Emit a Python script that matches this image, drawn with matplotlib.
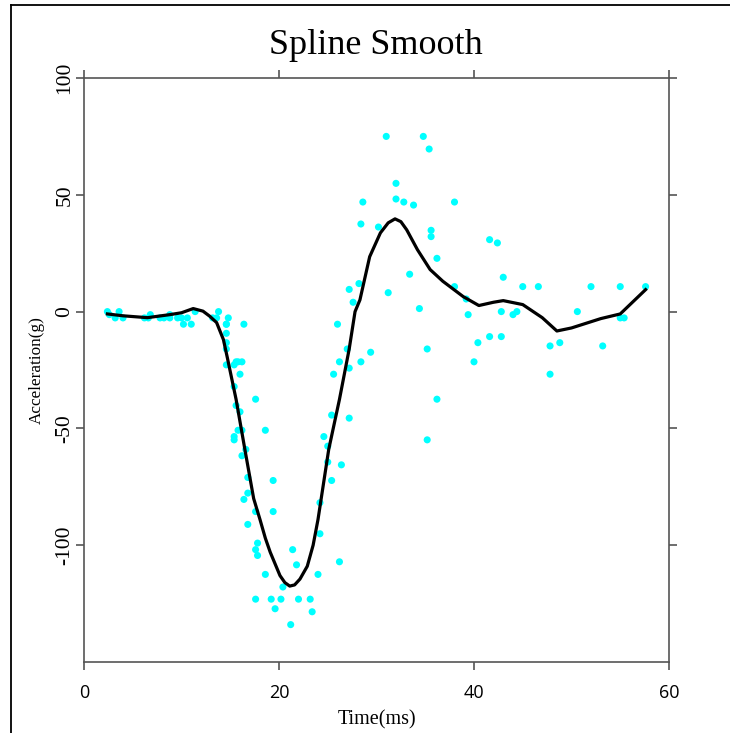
import matplotlib.pyplot as plt
from matplotlib.lines import Line2D

# motorcycle crash data (time in ms, head acceleration in g)
times = [2.4, 2.6, 3.2, 3.6, 4.0, 6.2, 6.6, 6.8, 7.8, 8.2,
         8.8, 8.8, 9.6, 10.0, 10.2, 10.6, 11.0, 11.4, 13.2, 13.6,
         13.8, 14.6, 14.6, 14.6, 14.6, 14.6, 14.6, 14.8, 15.4, 15.4,
         15.4, 15.4, 15.6, 15.6, 15.8, 15.8, 16.0, 16.0, 16.2, 16.2,
         16.2, 16.4, 16.4, 16.6, 16.8, 16.8, 16.8, 17.6, 17.6, 17.6,
         17.6, 17.8, 17.8, 18.6, 18.6, 19.2, 19.4, 19.4, 19.6, 20.2,
         20.4, 21.2, 21.4, 21.8, 22.0, 23.2, 23.4, 24.0, 24.2, 24.2,
         24.6, 25.0, 25.0, 25.4, 25.4, 25.6, 26.0, 26.2, 26.2, 26.4,
         27.0, 27.2, 27.2, 27.2, 27.6, 28.2, 28.4, 28.4, 28.6, 29.4,
         30.2, 31.0, 31.2, 32.0, 32.0, 32.8, 33.4, 33.8, 34.4, 34.8,
         35.2, 35.2, 35.4, 35.6, 35.6, 36.2, 36.2, 38.0, 38.0, 39.2,
         39.4, 40.0, 40.4, 41.6, 41.6, 42.4, 42.8, 42.8, 43.0, 44.0,
         44.4, 45.0, 46.6, 47.8, 47.8, 48.8, 50.6, 52.0, 53.2, 55.0,
         55.0, 55.4, 57.6]
accel = [0.0, -1.3, -2.7, 0.0, -2.7, -2.7, -2.7, -1.3, -2.7, -2.7,
         -1.3, -2.7, -2.7, -2.7, -5.4, -2.7, -5.4, 0.0, -2.7, -2.7,
         0.0, -13.3, -5.4, -5.4, -9.3, -16.0, -22.8, -2.7, -22.8, -32.1,
         -53.5, -54.9, -40.2, -21.5, -21.5, -50.8, -42.9, -26.8, -21.5, -50.8,
         -61.7, -5.4, -80.4, -59.0, -71.0, -91.1, -77.7, -37.5, -85.6, -123.1,
         -101.9, -99.1, -104.4, -112.5, -50.8, -123.1, -85.6, -72.3, -127.2, -123.1,
         -117.9, -134.0, -101.9, -108.4, -123.1, -123.1, -128.5, -112.5, -95.1, -81.8,
         -53.5, -64.4, -57.6, -72.3, -44.3, -26.8, -5.4, -107.1, -21.5, -65.6,
         -16.0, -45.6, -24.2, 9.5, 4.0, 12.0, -21.5, 37.5, 46.9, -17.4,
         36.2, 75.0, 8.1, 54.9, 48.2, 46.9, 16.0, 45.6, 1.3, 75.0,
         -16.0, -54.9, 69.6, 34.8, 32.1, -37.5, 22.8, 46.9, 10.7, 5.4,
         -1.3, -21.5, -13.3, 30.8, -10.7, 29.4, 0.0, -10.7, 14.7, -1.3,
         0.0, 10.7, 10.7, -26.8, -14.7, -13.3, 0.0, 10.7, -14.7, -2.7,
         10.7, -2.7, 10.7]

# smoothing spline
smooth_t = [2.4, 4.0, 6.5, 8.8, 10.0, 11.2, 12.2, 12.9, 13.6, 14.3, 14.7,
            15.6, 16.5, 17.4, 18.05, 18.6, 19.1, 20.1, 20.6, 21.1, 21.6,
            22.15, 22.9, 23.5, 24.0, 25.1, 26.2, 27.2, 27.8, 28.3, 29.3,
            30.4, 31.2, 31.9, 32.5, 33.1, 34.2, 35.5, 36.8, 38.9, 40.5,
            42.0, 43.0, 45.0, 47.0, 48.5, 50.0, 53.0, 55.0, 57.6]
smooth_a = [-1.0, -1.8, -2.6, -1.3, -0.5, 1.3, 0.2, -2.0, -4.7, -12.0, -19.7,
            -37.6, -59.0, -80.0, -89.0, -97.0, -103.0, -113.0, -116.0, -117.5, -117.0,
            -114.5, -109.0, -100.0, -89.0, -59.0, -37.6, -16.0, 0.0, 5.0, 23.5,
            33.7, 38.0, 39.7, 38.5, 35.0, 26.5, 18.0, 13.0, 6.4, 2.6,
            4.0, 4.7, 3.0, -2.6, -8.3, -7.0, -3.0, -1.0, 9.4]

xticks = [0, 20, 40, 60]
yticks = [-100, -50, 0, 50, 100]

fig = plt.figure(figsize=(7.3, 7.33), dpi=100)
ax = fig.add_axes([84 / 730, 71 / 733, 585 / 730, 584 / 733])

ax.scatter(times, accel, s=26, color="#00ffff", edgecolors="none", zorder=2)
ax.plot(smooth_t, smooth_a, color="black", lw=2.3, zorder=3)

ax.set_xlim(0, 60)
ax.set_ylim(-150, 100)
ax.set_xticks(xticks)
ax.set_yticks(yticks)
ax.set_xticklabels([str(v) for v in xticks], family="Open Sans", fontsize=13)
ax.set_yticklabels([str(v) for v in yticks], family="Liberation Serif",
                   fontsize=15.5, rotation=90, va="center")

for s in ax.spines.values():
    s.set_color("#555555")
    s.set_linewidth(1.2)
ax.tick_params(direction="out", length=6, width=1.2, color="#555555",
               top=True, right=True)
ax.tick_params(axis="x", pad=10)
ax.tick_params(axis="y", pad=1)

ax.set_xlabel("Time(ms)", family="Liberation Serif", fontsize=14.5)
ax.set_ylabel("Acceleration(g)", family="Liberation Serif", fontsize=12.3)
ax.xaxis.set_label_coords(0.5, -0.099)
ax.xaxis.label.set_va("center")
ax.yaxis.set_label_coords(-0.080, 0.5)
ax.yaxis.label.set_va("center")

fig.text(376 / 730, 1 - 45 / 733, "Spline Smooth", family="Liberation Serif",
         fontsize=26, ha="center", va="center")

# page frame (left and top edges only)
fig.add_artist(Line2D([11 / 730, 11 / 730], [0, 1 - 5 / 733], color="black", lw=1.3))
fig.add_artist(Line2D([11 / 730, 1], [1 - 5 / 733, 1 - 5 / 733], color="black", lw=1.3))

fig.savefig("out.png", dpi=100)
